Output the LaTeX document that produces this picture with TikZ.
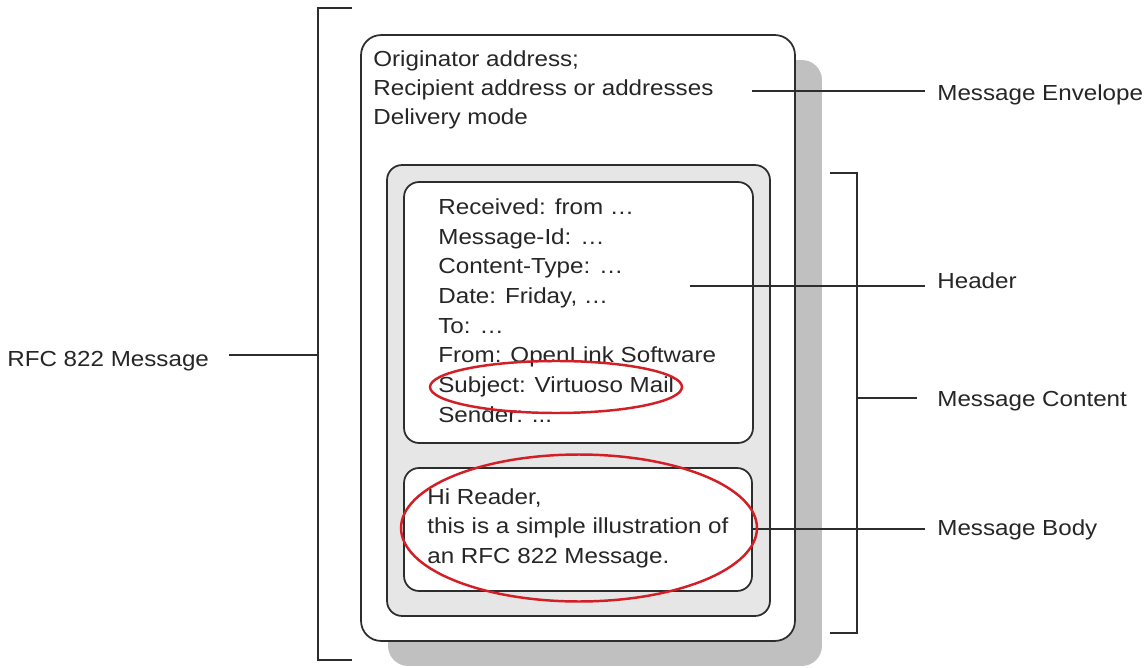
\documentclass[tikz,border=0pt]{standalone}
\usepackage{fontspec}
\setmainfont[FakeStretch=1.11]{Liberation Sans}
\usetikzlibrary{shapes.geometric}

\definecolor{ringred}{RGB}{212,30,38}
\definecolor{shadowgray}{RGB}{192,192,192}
\definecolor{panelgray}{RGB}{230,230,230}
\definecolor{inkgray}{RGB}{45,45,45}

\tikzset{
  box/.style={draw=inkgray, line width=1pt, rounded corners=0.4cm, inner sep=0pt},
  txt/.style={anchor=base west, inner sep=0pt, align=left, text=black!85, font=\fontsize{12.4}{16.6}\selectfont},
  lead/.style={draw=inkgray, line width=1pt},
  ring/.style={draw=ringred, line width=1.4pt, ellipse, inner sep=0pt},
}

\begin{document}
\begin{tikzpicture}[x=0.02cm, y=-0.02cm]
\useasboundingbox (0,0) rectangle (1148,668);

% envelope, shadow and the nested boxes
\node[box, fill=shadowgray, draw=none, minimum width=8.68cm, minimum height=12.12cm] (shadow) at (605,363) {};
\node[box, fill=white, minimum width=8.68cm, minimum height=12.12cm] (env) at (578,338) {};
\node[box, fill=panelgray, rounded corners=0.3cm, minimum width=7.66cm, minimum height=9.02cm] (content) at (578.5,390.5) {};
\node[box, fill=white, rounded corners=0.3cm, minimum width=6.98cm, minimum height=5.22cm] (header) at (578.5,312.5) {};
\node[box, fill=white, rounded corners=0.3cm, minimum width=6.96cm, minimum height=2.46cm] (body) at (578,529.5) {};

% base of a block = baseline of its last line
\node[txt] (envtxt) at (373,125) {Originator address;\\Recipient address or addresses\\Delivery mode};
\node[txt, font=\fontsize{12.4}{16.85}\selectfont] (hdrtxt) at (438,422) {Received: from \dots\\Message-Id: \dots\\Content-Type: \dots\\Date: Friday, \dots\\To: \dots\\From: OpenLink Software\\Subject: Virtuoso Mail\\Sender: ...};
\node[txt] (bodytxt) at (427,563) {Hi Reader,\\this is a simple illustration of\\an RFC 822 Message.};

% labels on both sides
\node[txt] (lblrfc) at (7,367) {RFC 822 Message};
\node[txt] (lblenv) at (937,101) {Message Envelope};
\node[txt] (lblhdr) at (937,289) {Header};
\node[txt] (lblcnt) at (937,406) {Message Content};
\node[txt] (lblbody) at (937,535) {Message Body};

% brackets
\coordinate (rfctop) at (352,8);
\coordinate (rfcbot) at (352,660);
\coordinate (rfcmid) at (318,355);
\draw[lead] (rfctop) -- (318,8) -- (318,660) -- (rfcbot);
\coordinate (cnttop) at (830,173);
\coordinate (cntbot) at (830,633);
\coordinate (cntmid) at (857,398);
\draw[lead] (cnttop) -- (857,173) -- (857,633) -- (cntbot);

% leader lines
\coordinate (envpt) at (752,91);
\coordinate (hdrpt) at (690,286);
\coordinate (bodypt) at (752,529);
\draw[lead, shorten >=0.24cm] (envpt) -- (envpt -| lblenv.west);
\draw[lead, shorten >=0.24cm] (hdrpt) -- (hdrpt -| lblhdr.west);
\draw[lead, shorten >=0.24cm] (bodypt) -- (bodypt -| lblbody.west);
\draw[lead, shorten >=0.4cm] (cntmid) -- (cntmid -| lblcnt.west);
\draw[lead, shorten >=0.4cm] (rfcmid) -- (rfcmid -| lblrfc.east);

% red rings
\node[ring, minimum width=5.04cm, minimum height=1.04cm] (subjring) at (556,387) {};
\node[ring, minimum width=7.12cm, minimum height=2.94cm] (bodyring) at (579,528) {};
\end{tikzpicture}
\end{document}
